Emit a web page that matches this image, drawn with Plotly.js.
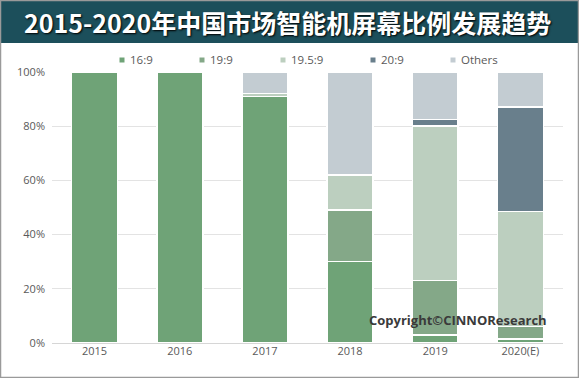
<!DOCTYPE html>
<html><head><meta charset="utf-8">
<script src="https://cdn.plot.ly/plotly-3.0.1.min.js"></script>
<style>html,body{margin:0;padding:0;background:#fff}#c{width:579px;height:378px}</style>
</head><body><div id="c"></div>
<script>
const years = ['2015','2016','2017','2018','2019','2020(E)'];
const s169 = [100, 100, 91, 30, 3, 1.5];
const s199 = [0, 0, 0, 19, 20, 4.5];
const s1959 = [0, 0, 1, 13, 57, 42.5];
const s209 = [0, 0, 0, 0, 2.5, 38.5];
const others = [0, 0, 8, 38, 17.5, 13];
const names = ['16:9','19:9','19.5:9','20:9','Others'];
const colors = ['#6fa377','#84a888','#bccfbf','#697f8c','#c3ccd2'];
const series = [s169, s199, s1959, s209, others];

const traces = series.map((v,i)=>({
  type:'bar', x:years, y:v, name:names[i],
  marker:{color:colors[i], line:{color:'#ffffff', width:1.5}},
  width:0.54, hoverinfo:'skip'
}));

const L=52, R=16, T=72, B=35, W=579, H=378;
const pw=W-L-R, ph=H-T-B;
const px=x=>(x-L)/pw, py=y=>(H-B-y)/ph;

const legX = [122, 202, 283, 373, 453];
const legY = 60;

const shapes = [
  {type:'rect', xref:'paper', yref:'paper', x0:px(0), x1:px(W), y0:py(43), y1:py(0), fillcolor:'#1c4f5b', line:{width:0}, layer:'below'},
  {type:'rect', xref:'paper', yref:'paper', x0:px(0.5), x1:px(W-0.5), y0:py(H-0.5), y1:py(0.5), fillcolor:'rgba(0,0,0,0)', line:{color:'#9a9a9a', width:1.5}, layer:'above'}
];
const annotations = [
  {xref:'paper', yref:'paper', x:px(287), y:py(22), xanchor:'center', yanchor:'middle', showarrow:false,
   text:'<b>2015-2020年中国市场智能机屏幕比例发展趋势</b>',
   font:{family:'Noto Sans CJK SC', size:25, color:'#ffffff', shadow:'1px 1px 2px #000'}},
  {xref:'paper', yref:'paper', x:px(458), y:py(320), xanchor:'center', yanchor:'middle', showarrow:false,
   text:'<b>Copyright©CINNOResearch</b>', font:{family:'Open Sans', size:13, color:'#3a3a3a'}}
];
names.forEach((n,i)=>{
  shapes.push({type:'rect', xref:'paper', yref:'paper', x0:px(legX[i]-2.5), x1:px(legX[i]+2.5), y0:py(legY+2.5), y1:py(legY-2.5), fillcolor:colors[i], line:{width:0}});
  annotations.push({xref:'paper', yref:'paper', x:px(legX[i]+6), y:py(legY), xanchor:'left', yanchor:'middle', showarrow:false,
    text:n, font:{family:'Open Sans', size:11.5, color:'#595959'}});
});

const layout = {
  width:W, height:H, margin:{l:L,r:R,t:T,b:B},
  paper_bgcolor:'#fff', plot_bgcolor:'#fff',
  barmode:'stack', bargap:0.46,
  showlegend:false,
  xaxis:{type:'category', tickfont:{family:'Open Sans', size:11, color:'#595959'}, showline:false, ticks:'', showgrid:false, fixedrange:true},
  yaxis:{range:[0,100], tickvals:[0,20,40,60,80,100], ticktext:['0%','20%','40%','60%','80%','100%'],
    tickfont:{family:'Open Sans', size:11, color:'#595959'}, gridcolor:'#e3e3e3', gridwidth:1,
    zeroline:true, zerolinecolor:'#d6d6d6', zerolinewidth:1, showline:false, ticks:'', ticklen:0, fixedrange:true,
    ticklabelstandoff:6},
  shapes:shapes,
  annotations:annotations
};
Plotly.newPlot('c', traces, layout, {displayModeBar:false, staticPlot:true});
</script></body></html>
